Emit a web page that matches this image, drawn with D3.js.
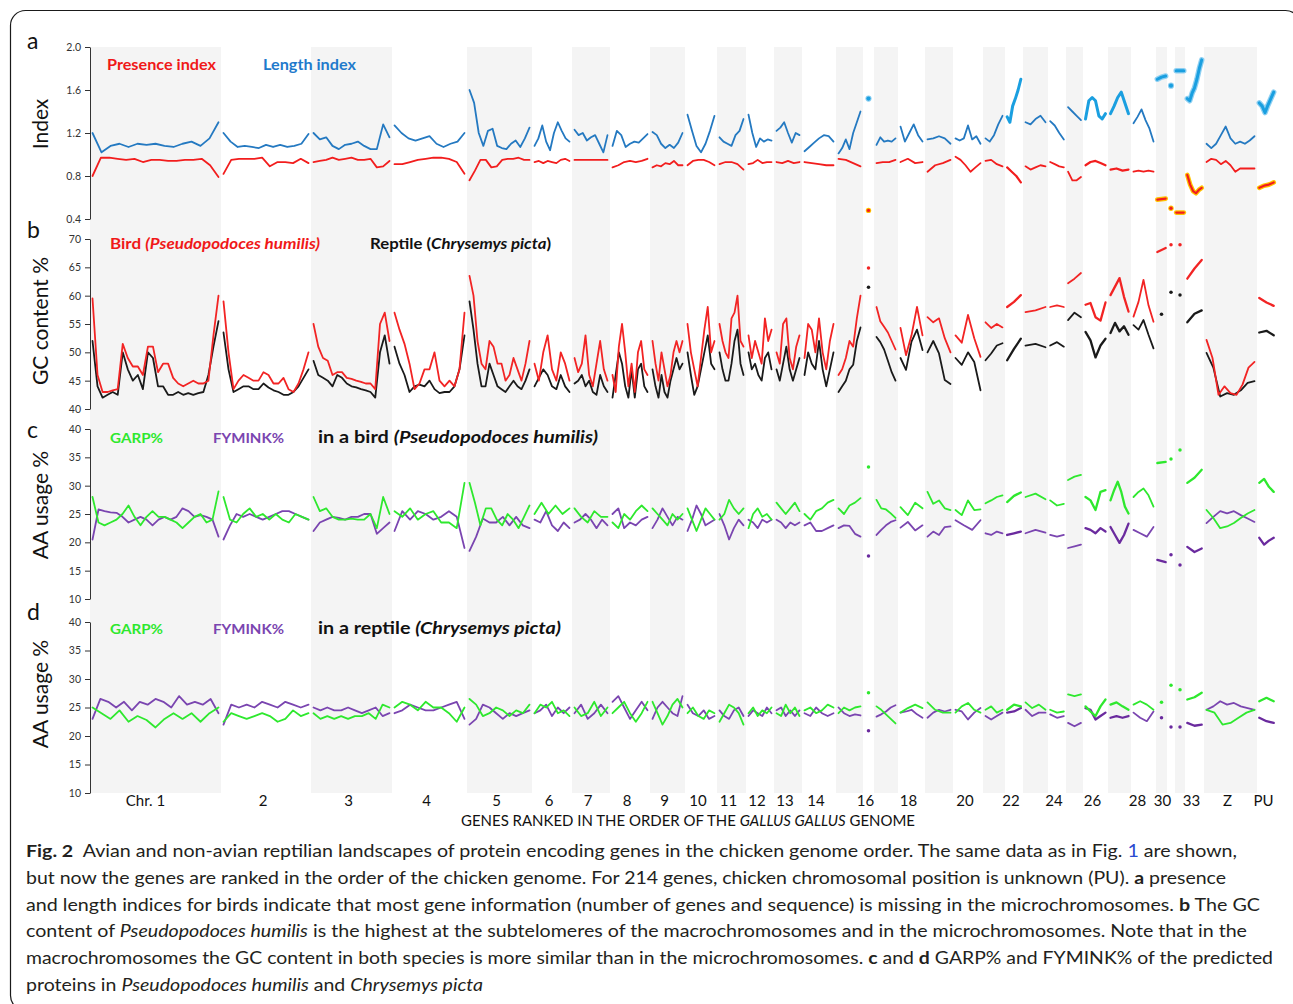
<!DOCTYPE html>
<meta charset="utf-8">
<style>
  body { margin: 0; background: #fff; }
  svg text { font-family: Lato, "Open Sans", sans-serif; }
  .tick text { font-size: 10.5px; fill: #333; }
  .tick line, .domain { stroke: #333; }
  .caption { font-size: 17.5px; fill: #231f20; white-space: pre; }
</style>
<body>
<script src="https://cdn.jsdelivr.net/npm/d3@7"></script>
<script>

// chromosomes in chicken genome order, boundaries in gene rank
const chroms = ["1","2","3","4","5","6","7","8","9","10","11","12","13","14","15","16","17","18","19","20",
  "21","22","23","24","25","26","27","28","30","31","32","33","Z","PU"];
const bounds = [0,1310,2210,3020,3770,4420,4820,5200,5600,5950,6270,6560,6840,7120,7460,7730,7840,8080,
  8350,8630,8930,9150,9330,9580,9760,9930,10180,10410,10660,10770,10850,10950,11140,11670,11860];
const labelled = ["1","2","3","4","5","6","7","8","9","10","11","12","13","14","16","18","20","22","24","26","28","30","33","Z","PU"];

// a: presence index (birds)
const presence = [
  [0.80,0.97,0.97,0.96,0.95,0.96,0.93,0.95,0.95,0.94,0.94,0.95,0.95,0.96,0.90,0.79],
  [0.82,0.95,0.96,0.96,0.96,0.97,0.89,0.93,0.93,0.92,0.96,0.92],
  [0.93,0.94,0.95,0.97,0.95,0.96,0.97,0.95,0.95,0.96,0.88,0.89,0.94],
  [0.91,0.91,0.93,0.95,0.96,0.97,0.97,0.96,0.93,0.82],
  [0.76,0.85,0.95,0.95,0.88,0.89,0.95,0.96,0.96,0.97,0.95,0.95],
  [0.93,0.94,0.92,0.94,0.93,0.92,0.95,0.96,0.94],
  [0.95,0.95,0.95,0.95,0.95,0.95],
  [0.88,0.90,0.93,0.94,0.93,0.94,0.96],
  [0.88,0.90,0.89,0.92,0.91,0.94,0.90,0.90],
  [0.90,0.94,0.95,0.95,0.93,0.90],
  [0.91,0.93,0.93,0.91,0.86],
  [0.91,0.92,0.95,0.92,0.93,0.93],
  [0.93,0.92,0.94,0.92,0.93],
  [0.93,0.92,0.91,0.90,0.90],
  [0.96,0.95,0.92,0.89],
  [0.48],
  [0.92,0.93,0.93,0.95],
  [0.93,0.96,0.92,0.93],
  [0.84,0.90,0.92,0.95],
  [0.98,0.95,0.90,0.84,0.88,0.92],
  [0.94,0.95,0.91,0.89],
  [0.88,0.84,0.80,0.74],
  [0.89,0.86,0.88,0.90,0.89],
  [0.93,0.91,0.89,0.88],
  [0.84,0.76,0.76,0.79],
  [0.90,0.93,0.94,0.92,0.90],
  [0.86,0.87,0.85,0.86],
  [0.84,0.85,0.84,0.85,0.84],
  [0.58,0.59],
  [0.50],
  [0.46,0.46],
  [0.81,0.72,0.66,0.64,0.67,0.69],
  [0.93,0.96,0.95,0.91,0.94,0.90,0.84,0.87,0.87,0.87,0.87],
  [0.69,0.71,0.72,0.74]
];

// a: length index (birds)
const lengthIdx = [
  [1.20,1.02,1.08,1.10,1.07,1.10,1.09,1.10,1.08,1.07,1.10,1.12,1.08,1.15,1.30],
  [1.20,1.12,1.07,1.08,1.07,1.06,1.09,1.07,1.09,1.07,1.08,1.10,1.19],
  [1.20,1.14,1.16,1.08,1.05,1.09,1.10,1.12,1.08,1.05,1.05,1.28,1.16],
  [1.27,1.20,1.15,1.13,1.15,1.17,1.10,1.07,1.10,1.12,1.20],
  [1.60,1.48,1.20,1.08,1.22,1.24,1.08,1.06,1.05,1.10,1.13,1.07,1.15,1.25],
  [1.08,1.15,1.27,1.12,1.04,1.20,1.30,1.22,1.15,1.12],
  [1.23,1.18,1.20,1.13,1.16,1.18,1.10,1.02,1.18],
  [1.08,1.22,1.18,1.07,1.10,1.12,1.11,1.15,1.19],
  [1.21,1.18,1.10,1.06,1.09,1.06,1.11,1.20],
  [1.37,1.22,1.08,1.02,1.10,1.22,1.36],
  [1.16,1.12,1.10,1.08,1.18,1.22,1.33],
  [1.37,1.20,1.07,1.15,1.12,1.14,1.13],
  [1.22,1.25,1.30,1.20,1.11,1.20,1.18],
  [1.03,1.07,1.11,1.15,1.18,1.17,1.12],
  [1.01,1.06,1.14,1.05,1.20,1.30,1.40],
  [1.52],
  [1.09,1.16,1.12,1.13,1.12,1.15],
  [1.26,1.12,1.20,1.28,1.18,1.12],
  [1.14,1.15,1.17,1.15,1.10],
  [1.15,1.13,1.15,1.27,1.14,1.17,1.10],
  [1.15,1.12,1.18,1.28,1.36],
  [1.35,1.30,1.45,1.52,1.60,1.70],
  [1.30,1.28,1.33,1.36,1.30],
  [1.31,1.27,1.20,1.14],
  [1.44,1.40,1.36,1.32],
  [1.33,1.50,1.53,1.50,1.36,1.33,1.38],
  [1.38,1.45,1.53,1.58,1.48,1.38],
  [1.29,1.35,1.42,1.32,1.24,1.12],
  [1.70,1.72,1.73],
  [1.64],
  [1.78,1.78],
  [1.52,1.50,1.57,1.62,1.70,1.80,1.88],
  [1.10,1.06,1.10,1.18,1.26,1.15,1.10,1.12,1.10,1.13,1.17],
  [1.48,1.45,1.39,1.46,1.52,1.58]
];

// b: GC content %, bird
const gcBird = [
  [59.5,46,43,43,43.3,43.5,51.5,49,47.5,47.5,46,51,51,46.5,48,48,45.5,44.5,44,44.5,45,44.5,44.5,45,53,60],
  [59,50,43.5,45,46,45.5,45,45,46.5,46,44.5,44.5,45.5,43.5,43,44.5,47,50],
  [55,51,49,48.5,46,46.5,46.5,45.5,45.3,45,44.8,44.5,44.5,43.5,55,57,52],
  [57,54,51.5,48,43.5,44.5,47,47,50,45,44,45,44,47,57],
  [63.5,60,52,48,47,52,51,48,48,45,46,49,47,45,48,52],
  [48,45,50,53,47,45,50,48,45],
  [49,46.5,48,53,46,44,48,52,47,45],
  [46,43,51,55,50,44,48,43,50,52,47,46],
  [52,48,45,50,47,44,46,50,52,50,52],
  [55,50,47,44,49,54,58,50,52],
  [55,52,50,49,56,57,60,52,51],
  [53,49,52,50,48,56,52,54],
  [50,48,55,56,49,47,51,53],
  [49,55,54,50,56,50,47,52,55],
  [46,47,49,52,51,56,60],
  [64.9],
  [58,55.5,54.5,53.5,52,50.5],
  [54.3,49.5,53,58,53],
  [56.2,55.3,56,52.5,50],
  [53,51.7,56.6,52.5,49.2],
  [55.3,54.3,55,54.4],
  [58,58.9,60.1],
  [57.1,57.4,58],
  [58,58.3,58],
  [62.2,63,64],
  [58.4,58.7,56.2,55.6,58.8],
  [60.1,61.6,63.1,59.8,57.2],
  [56.3,58.9,62.8,58.3,55.4],
  [67.7,68.4],
  [69],
  [69],
  [63,64.8,66.3],
  [52.2,49,42.5,44,42.8,42.5,44.3,47.3,48.3],
  [59.6,58.8,58.2]
];

// b: GC content %, reptile
const gcReptile = [
  [52,44,42,42.5,43,42.5,50,47,45,46,43.5,50,49,44,44,42.5,42.5,43,42.5,42.8,42.5,42.8,43,46,51,55.5],
  [53.5,47,43,43.5,44,44,43.5,43.5,44.5,43.8,43.3,43,42.5,42.5,43,44,45.5,47],
  [48.5,46,45.5,45,44,46,45.5,44.5,44,43.8,43.5,43.3,43,42,50,53,48],
  [51,48,46,43,44,44.3,44,45,43.5,42.8,43,43,44,47,53],
  [59,54,48,44,44,48,46,44,43.5,43,44,45,44,43.5,45,47],
  [44,45.5,47,46,44,43.5,46,44,43],
  [44.5,45,46,44,45,43,42.5,46,44,43],
  [42,46,50,48,44,42,47,42,47,48,44,43],
  [47,44,42,46,43,42,45,47,49,47,48],
  [50,46,42.5,44,47,50,53,48,47],
  [50,47,45,45,48,52,54,48,46],
  [50,47,48,46,45,49,50,47],
  [47,45,48,51,47,45,47,49],
  [46,50,48,47,52,47,44,47,50],
  [43,44,45,47,47.8,52,54.4],
  [61.5],
  [52.7,51.8,50.5,48.5,46.5,45],
  [49,46.9,51.9,54,50.4],
  [50,52,49.8,45.1,44.4],
  [49,47.8,50,48.3,43.3],
  [48.6,49.8,51.2,51.6],
  [48.6,50.6,52.4],
  [51.2,51.5,50.9],
  [51.2,51.8,51],
  [55.7,57,56.2],
  [53.6,52.1,49.1,51.2,52.4],
  [53.4,55.2,53.7,54.6,53.1],
  [54.8,54,55.7,53.1,50.7],
  [56.7],
  [60.6],
  [60.1],
  [55.3,56.8,57.4],
  [49.9,47.3,42.2,42.8,42.5,43.3,44.6,44.9],
  [53.5,53.8,53]
];

// c: GARP% and FYMINK%, bird
const garpBird = [
  [28,23.5,23,23.5,24,25,26.5,24.5,23,24.5,25.5,24.5,24.5,24,23.5,22.5,23.5,24.5,25,23.5,24,29],
  [28,24,23.5,25,26,24.5,25,24,25,24,23.5,25,24.5,24],
  [28,25.5,26,24.5,24,24,24.2,24,24,25,22.5,28,25],
  [25.5,24.5,26,24,25,25.5,23.5,23.5,22.5,30.5],
  [30.5,27,23,26,26,24,23,25,24,22.5,24.5,26.5],
  [25,27,25,26.5,25,26],
  [26,24.5,23.5,25.5,24.5,24.5],
  [23.5,22.5,25,24,25.5,26.5,25.5],
  [26,25,24,23,25,24,25],
  [26,24,22,24,26,25,24],
  [24,25,27.5,26,25,26],
  [22.5,25,26,24.5,25,24],
  [27,26,25,26,27,25.5],
  [25,24,25.5,26,27,27.5],
  [26,25,26.5,27,27.8],
  [33.3],
  [27.5,26,25.8,25.1,24.3],
  [26.2,24.8,27,26],
  [28.9,26.8,27.4,26,25.7],
  [25.7,24.8,27.4,25.7,25.8],
  [26.9,27.4,28,28.3],
  [27.1,28.2,28.8],
  [28,28.6,27.6],
  [27.4,26.5,26.8],
  [31,31.6,31.9],
  [28,27.4,25.7,28.9,29.2],
  [27.4,29.2,30.7,28.9,26.3,25.1],
  [28,28.9,29.5,28.3,26.3],
  [34,34.2],
  [34.7],
  [36.3],
  [30.5,31.4,32.8],
  [25.7,24.3,22.5,22.8,23.4,24.3,25.1,25.7],
  [30.5,31.2,29.8,28.9]
];
const fyminkBird = [
  [20.5,25.8,25.5,25.3,25.2,24.5,23.5,24,24.5,24,23,24,24.5,24,24.5,26,25.5,24.5,24.8,24.5,24,21],
  [20.5,23,25,24.5,25,24.5,24,24.5,25,25.5,25.5,25,24.5,24],
  [22,23.5,24,24.5,24.3,24,24.5,24.5,25,25,21.5,22.5,23.5],
  [22,25.5,24,25.5,25,24,24.5,25.5,24.5,19],
  [18.5,21,24.2,23.5,23.5,24.5,23,24.5,23,22.5],
  [24,23.5,25.5,23,22,23.5,22.5],
  [23.5,24,25,24,22.5,24,23],
  [25,26,22.5,23.5,23,24,24.5],
  [22.5,24,26,24.5,23,24.5,24],
  [22,24,26.5,25,23,23.5,24],
  [25,23,20.5,22.5,24,23],
  [24,23.5,22.5,24,23.5,24],
  [24,23.5,22.5,23.5,23,23.5],
  [23,23.5,22,22,22.5,23],
  [22.5,23,22.9,21.5,21],
  [17.6],
  [21.3,22.2,23,23.6,23.9],
  [22.6,23.6,22.1,23],
  [21,21.9,21.3,22.7,22.8],
  [23.9,23,22.2,23.9],
  [21.6,21.3,21.9,21.6],
  [21.3,21.6,21.9],
  [21.6,22.2,21.7],
  [21.3,21,21.3],
  [19,19.3,19.6],
  [22.5,22.2,21.6,22.5,21.9],
  [22.7,21.3,19.9,21.3,23.3],
  [22.2,21.6,21,22.7],
  [16.9,16.5],
  [17.8],
  [16],
  [19.2,18.3,18.9],
  [23.4,24.5,25.5,25.1,25.5,24.8,24.2,23.6],
  [20.8,19.6,20.3,20.8]
];

// d: GARP% and FYMINK%, reptile
const garpReptile = [
  [25,24,23,24.5,22.5,23.5,22.8,21.5,23,24,23,24,22.5,24,25],
  [22.5,24,23.5,23,23.5,24,23.5,22.5,23,24.5,23.5,24],
  [24,23,23.5,23,23.5,23,23.5,23.5,24,23,25.5,25],
  [25,26,25.5,24.5,26,25,25,24,22.5,25],
  [26.5,25.5,23.5,24,25,24.5,23.5,24.5,24,25.5],
  [24,25.5,25,26,24,24.5,23.5],
  [25,23.5,24,26,23.5,25],
  [24,25,26,24,22.5,24,26],
  [26,24,22,23.5,25.5,26.5,25],
  [24,25,23.5,23,24.5,24],
  [22.5,24,25.5,25,24,22],
  [24,25,23.5,24.5,24,25],
  [24,23.5,25.5,24,25,23.5],
  [24.5,25,24,24.5,25.5,25],
  [24,25,24.5,25,25.2],
  [27.6],
  [25.2,24.6,23.8,23,22.2],
  [24.1,24.9,25.5,24.9],
  [25.9,24.6,24.1,24.1],
  [24.1,25.2,25.8,24.6,24.1],
  [24.6,25.2,24.1,24.6],
  [24.6,25.5,25.2],
  [25.9,24.9,25.5,24.6],
  [24.6,24.1,24.3],
  [27.3,27,27.3],
  [25.2,24.3,23.5,25.2,26.4],
  [25.5,25.9,25.2,24.6],
  [25.5,26.1,25.5,24.6],
  [25.9],
  [28.9],
  [28.1],
  [26.4,26.8,27.6],
  [24.6,24.1,22,22.3,23.2,24.1,24.6],
  [26.1,26.7,26.1]
];
const fyminkReptile = [
  [23,26.5,26,25,26,24.5,26,25.5,26.5,26,25,27,25.5,26,25.5,26.5,24],
  [22,25.5,25,25.5,25,26,25.5,25,26,25.5,25,25.5],
  [25,24.5,25,24.5,24.5,25,24.5,24,24.5,25,23.5,24],
  [24,24.5,25.5,25,24.5,24.5,25,25.5,26,23],
  [22,23,25.5,25,24,23,24,23.5,24,24.5],
  [24,24.5,25.5,23.5,25,24,25],
  [24,25.5,23,24,25.5,24],
  [26,27,25,23,24.5,26,24.5],
  [23,25,26,25,24,23.5,27],
  [25.5,24,23.5,24.5,23,23.5],
  [24.5,23.5,23,24.5,25,23.5],
  [23.5,24.5,24,23.5,25,24],
  [24.5,25,23.5,24.5,23.5,24.5],
  [24,23.5,25,24,23.5,24],
  [25,24,23.5,23.8,23.6],
  [20.9],
  [23.4,23.8,24.3,25,25.4],
  [24.1,24.3,24.6,23.8,23.2],
  [23.2,24.1,24.6,24.3,24.6],
  [24.6,24.3,22.9,24.1,24.9],
  [23.5,22.9,23.5,24.1],
  [24.1,24.3,24.9],
  [24.6,23.5,24.1,24.1],
  [23.8,23.2,23.5],
  [22.3,21.7,22.3],
  [24.9,24.6,22.9,23.5,24.1],
  [23.2,23.5,23.2,23.5],
  [24.1,23.2,22.6,24.3],
  [23.2],
  [21.6],
  [21.6],
  [22.3,21.8,22],
  [24.6,25.2,26.1,25.5,25.8,25.2,24.9,24.6],
  [23.2,22.6,22.3]
];

/////////////////////////

const width = 1293, height = 1004;
const svg = d3.select("body").append("svg")
  .attr("width", width).attr("height", height);

svg.append("rect")
  .attr("x", 10.5).attr("y", 10.5)
  .attr("width", 1290).attr("height", 1000)
  .attr("rx", 15)
  .attr("fill", "none").attr("stroke", "#1a1a1a").attr("stroke-width", 1.2);

const x = d3.scaleLinear()
  .domain([0, bounds[bounds.length - 1]])
  .range([90, 1276]);

const panels = [
  { y: d3.scaleLinear().domain([0.4, 2.0]).range([219, 47]), ticks: [0.4, 0.8, 1.2, 1.6, 2.0],
    fmt: d3.format(".1f"), letter: "a", letterY: 49, title: "Index", titleY: 124 },
  { y: d3.scaleLinear().domain([40, 70]).range([409, 239]), ticks: d3.range(40, 71, 5),
    fmt: d3.format("d"), letter: "b", letterY: 238, title: "GC content %", titleY: 321 },
  { y: d3.scaleLinear().domain([10, 40]).range([599, 429]), ticks: d3.range(10, 41, 5),
    fmt: d3.format("d"), letter: "c", letterY: 438, title: "AA usage %", titleY: 505 },
  { y: d3.scaleLinear().domain([10, 40]).range([793, 622]), ticks: d3.range(10, 41, 5),
    fmt: d3.format("d"), letter: "d", letterY: 620, title: "AA usage %", titleY: 694 }
];

// alternating chromosome bands
svg.append("g").selectAll("rect")
  .data(chroms.filter((c, i) => i % 2 === 0))
  .join("rect")
  .attr("x", c => x(bounds[chroms.indexOf(c)]))
  .attr("width", c => x(bounds[chroms.indexOf(c) + 1]) - x(bounds[chroms.indexOf(c)]))
  .attr("y", 47)
  .attr("height", 793 - 47)
  .attr("fill", "#f4f4f4");

panels.forEach(p => {
  svg.append("g")
    .attr("transform", "translate(90,0)")
    .call(d3.axisLeft(p.y).tickValues(p.ticks).tickFormat(p.fmt).tickSize(5).tickSizeOuter(0))
    .call(g => g.selectAll(".tick text").attr("x", -9).style("font-family", "Lato, sans-serif"));

  svg.append("text")
    .attr("x", 27).attr("y", p.letterY)
    .style("font-size", "23px").attr("fill", "#111")
    .text(p.letter);

  svg.append("text")
    .attr("transform", `translate(48,${p.titleY}) rotate(-90)`)
    .attr("text-anchor", "middle")
    .style("font-size", "21px").attr("fill", "#111")
    .text(p.title);
});

// chromosomes with few genes get brighter / bolder marks
const sparse = new Set(["16", "22", "26", "27", "30", "31", "32", "33", "PU"]);
const haloed = new Set(["16", "30", "31", "32", "33", "PU"]);

function segPoints(i, vals) {
  const a = bounds[i], b = bounds[i + 1];
  const pad = Math.min(25, (b - a) * 0.12);
  if (vals.length === 1) return [[(a + b) / 2, vals[0]]];
  return vals.map((v, j) => [a + pad + (b - a - 2 * pad) * j / (vals.length - 1), v]);
}

function drawSeries(panel, series, color, opts) {
  const y = panels[panel].y;
  const line = d3.line().x(d => x(d[0])).y(d => y(d[1]));
  const g = svg.append("g");
  series.forEach((vals, i) => {
    const pts = segPoints(i, vals);
    const sp = sparse.has(chroms[i]);
    const col = sp && opts.sparseColor ? opts.sparseColor : color;
    const w = sp ? opts.width + (opts.sparseExtra || 0.5) : opts.width;
    if (haloed.has(chroms[i]) && opts.halo) {
      if (pts.length === 1) {
        g.append("circle").attr("cx", x(pts[0][0])).attr("cy", y(pts[0][1]))
          .attr("r", w / 2 + 1.6).attr("fill", opts.halo);
      } else {
        g.append("path").attr("d", line(pts)).attr("fill", "none")
          .attr("stroke", opts.halo).attr("stroke-width", w + 2.5)
          .attr("stroke-linejoin", "round").attr("stroke-linecap", "round");
      }
    }
    if (pts.length === 1) {
      g.append("circle").attr("cx", x(pts[0][0])).attr("cy", y(pts[0][1]))
        .attr("r", w / 2 + 0.6).attr("fill", col);
    } else {
      g.append("path").attr("d", line(pts)).attr("fill", "none")
        .attr("stroke", col).attr("stroke-width", w)
        .attr("stroke-linejoin", "round").attr("stroke-linecap", "round");
    }
  });
}

drawSeries(0, lengthIdx, "#2479c1", { width: 1.8, sparseColor: "#1a9fe0", sparseExtra: 1.2, halo: "#8fd0f2" });
drawSeries(0, presence, "#f21d1d", { width: 1.8, sparseExtra: 0.4, halo: "#ffc400" });
drawSeries(1, gcReptile, "#1a1a1a", { width: 1.8 });
drawSeries(1, gcBird, "#f22424", { width: 1.8 });
drawSeries(2, fyminkBird, "#7a45b0", { width: 1.8, sparseColor: "#6a2a9e" });
drawSeries(2, garpBird, "#2ee82e", { width: 1.8 });
drawSeries(3, fyminkReptile, "#7a45b0", { width: 1.8, sparseColor: "#6a2a9e" });
drawSeries(3, garpReptile, "#2ee82e", { width: 1.8 });

// legends
function legend(xp, yp, parts, size, len) {
  const t = svg.append("text").attr("x", xp).attr("y", yp)
    .attr("textLength", len).attr("lengthAdjust", "spacingAndGlyphs")
    .style("font-size", size + "px").style("font-weight", "bold").style("white-space", "pre");
  parts.forEach(([s, col, it]) => {
    t.append("tspan").attr("fill", col).style("font-style", it ? "italic" : "normal").text(s);
  });
}
legend(107, 70, [["Presence index", "#f01818"]], 15, 109);
legend(263, 70, [["Length index", "#1f7acc"]], 15, 93);
legend(110, 249, [["Bird ", "#f01818"], ["(Pseudopodoces humilis)", "#f01818", true]], 15, 210);
legend(370, 249, [["Reptile (", "#111"], ["Chrysemys picta", "#111", true], [")", "#111"]], 15, 181);
legend(110, 443, [["GARP%", "#2ee82e"]], 14, 53);
legend(213, 443, [["FYMINK%", "#7a45b0"]], 14, 71);
legend(318, 443, [["in a bird ", "#111"], ["(Pseudopodoces humilis)", "#111", true]], 17.5, 280);
legend(110, 634, [["GARP%", "#2ee82e"]], 14, 53);
legend(213, 634, [["FYMINK%", "#7a45b0"]], 14, 71);
legend(318, 634, [["in a reptile ", "#111"], ["(Chrysemys picta)", "#111", true]], 17.5, 243);

// chromosome labels
const labelShift = { "1": -10, "28": -6, "30": 1 };
svg.append("g").selectAll("text")
  .data(labelled)
  .join("text")
  .attr("x", c => {
    const i = chroms.indexOf(c);
    return x((bounds[i] + bounds[i + 1]) / 2) + (c in labelShift ? labelShift[c] : -3);
  })
  .attr("y", 806)
  .attr("text-anchor", "middle")
  .style("font-size", "15px").attr("fill", "#111")
  .text(c => c === "1" ? "Chr. 1" : c);

const xt = svg.append("text").attr("x", 461).attr("y", 826)
  .attr("textLength", 454).attr("lengthAdjust", "spacingAndGlyphs")
  .style("font-size", "15px").attr("fill", "#111")
  .style("white-space", "pre");
xt.append("tspan").text("GENES RANKED IN THE ORDER OF THE ");
xt.append("tspan").style("font-style", "italic").text("GALLUS GALLUS");
xt.append("tspan").text(" GENOME");

// caption
const caption = [
  [["Fig. 2", "b"], ["  Avian and non-avian reptilian landscapes of protein encoding genes in the chicken genome order. The same data as in Fig. "], ["1", "link"], [" are shown,"]],
  [["but now the genes are ranked in the order of the chicken genome. For 214 genes, chicken chromosomal position is unknown (PU). "], ["a", "b"], [" presence"]],
  [["and length indices for birds indicate that most gene information (number of genes and sequence) is missing in the microchromosomes. "], ["b", "b"], [" The GC"]],
  [["content of "], ["Pseudopodoces humilis", "i"], [" is the highest at the subtelomeres of the macrochromosomes and in the microchromosomes. Note that in the"]],
  [["macrochromosomes the GC content in both species is more similar than in the microchromosomes. "], ["c", "b"], [" and "], ["d", "b"], [" GARP% and FYMINK% of the predicted"]],
  [["proteins in "], ["Pseudopodoces humilis", "i"], [" and "], ["Chrysemys picta", "i"]]
];
const capWidths = [1211, 1200, 1234, 1221, 1247, 457];
caption.forEach((line, k) => {
  const t = svg.append("text").attr("class", "caption")
    .attr("x", 26).attr("y", 857 + k * 26.8)
    .attr("textLength", capWidths[k]).attr("lengthAdjust", "spacingAndGlyphs");
  line.forEach(([s, st]) => {
    const ts = t.append("tspan").text(s);
    if (st === "b") ts.style("font-weight", "bold");
    if (st === "i") ts.style("font-style", "italic");
    if (st === "link") ts.attr("fill", "#2a4ad0");
  });
});

</script>
</body>
